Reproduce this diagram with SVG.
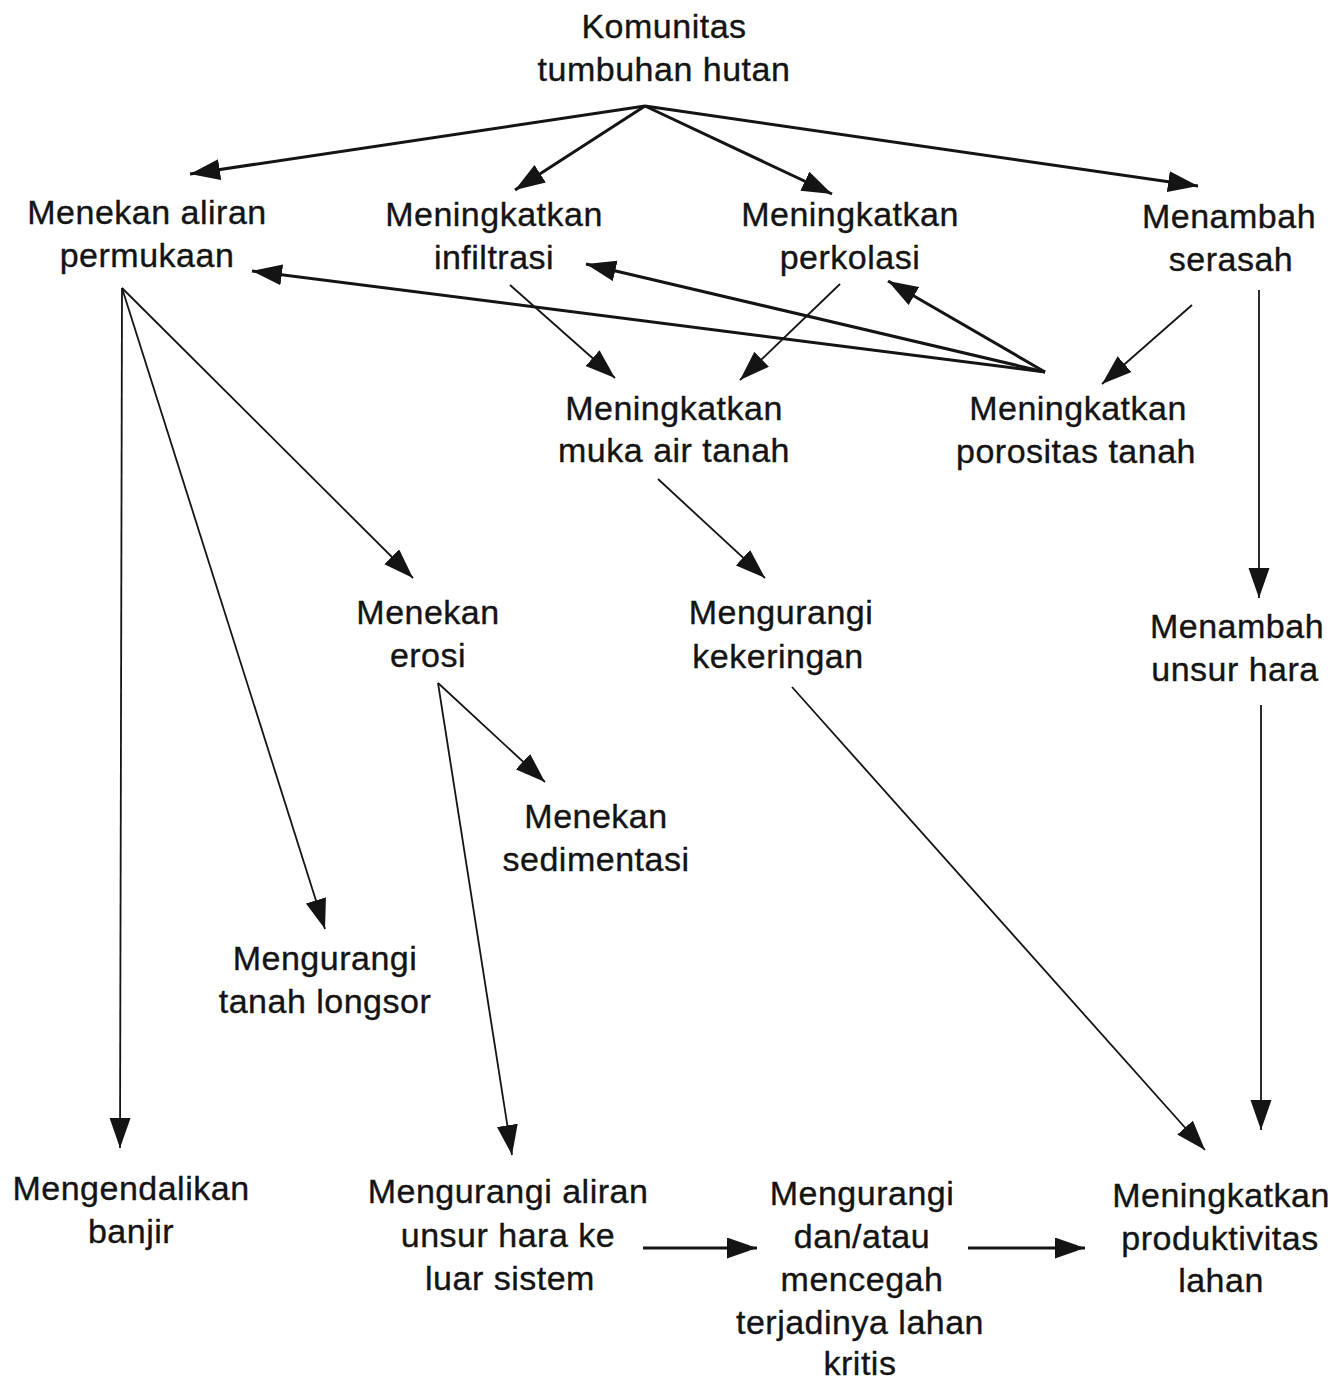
<svg xmlns="http://www.w3.org/2000/svg" width="1337" height="1383" viewBox="0 0 1337 1383">
<defs>
<style>
text{font-family:"Liberation Sans",Arial,sans-serif;font-size:34px;letter-spacing:0.5px;fill:#141414;stroke:#141414;stroke-width:0.35px;text-anchor:middle}
.c{stroke:#141414;fill:none;marker-end:url(#ah)}
.thick{stroke-width:3}
.thin{stroke-width:1.8}
</style>
<marker id="ah" markerUnits="userSpaceOnUse" markerWidth="32" markerHeight="22" refX="30" refY="10.5" orient="auto" viewBox="0 0 32 22">
<path d="M0,0 L30,10.5 L0,21 z" fill="#141414"/>
</marker>
</defs>
<rect width="1337" height="1383" fill="#ffffff"/>
<g id="connectors">
<line class="c thick" x1="645" y1="106" x2="190" y2="174"/>
<line class="c thick" x1="645" y1="106" x2="515" y2="190"/>
<line class="c thick" x1="645" y1="106" x2="832" y2="194"/>
<line class="c thick" x1="645" y1="106" x2="1198" y2="186"/>
<line class="c thick" x1="1045" y1="372" x2="252" y2="271"/>
<line class="c thick" x1="1045" y1="372" x2="586" y2="264"/>
<line class="c thick" x1="1045" y1="372" x2="888" y2="281"/>
<line class="c thin" x1="1192" y1="305" x2="1102" y2="384"/>
<line class="c thin" x1="510" y1="285" x2="615" y2="378"/>
<line class="c thin" x1="840" y1="284" x2="740" y2="380"/>
<line class="c thin" x1="122" y1="288" x2="120" y2="1148"/>
<line class="c thin" x1="122" y1="288" x2="325" y2="929"/>
<line class="c thin" x1="122" y1="288" x2="413" y2="578"/>
<line class="c thin" x1="658" y1="479" x2="765" y2="578"/>
<line class="c thin" x1="1259" y1="290" x2="1259" y2="598"/>
<line class="c thin" x1="1261" y1="705" x2="1261" y2="1130"/>
<line class="c thin" x1="792" y1="687" x2="1205" y2="1150"/>
<line class="c thin" x1="438" y1="683" x2="545" y2="782"/>
<line class="c thin" x1="438" y1="683" x2="512" y2="1155"/>
<line class="c thick" x1="643" y1="1248" x2="757" y2="1248"/>
<line class="c thick" x1="968" y1="1248" x2="1085" y2="1248"/>
</g>
<g id="n-komunitas"><text x="664" y="38">Komunitas</text><text x="664" y="81">tumbuhan hutan</text></g>
<g id="n-menekan-aliran"><text x="147" y="224">Menekan aliran</text><text x="147" y="267">permukaan</text></g>
<g id="n-infiltrasi"><text x="494" y="226">Meningkatkan</text><text x="494" y="269">infiltrasi</text></g>
<g id="n-perkolasi"><text x="850" y="226">Meningkatkan</text><text x="850" y="269">perkolasi</text></g>
<g id="n-serasah"><text x="1229" y="228">Menambah</text><text x="1231" y="271">serasah</text></g>
<g id="n-muka-air"><text x="674" y="420">Meningkatkan</text><text x="674" y="462">muka air tanah</text></g>
<g id="n-porositas"><text x="1078" y="420">Meningkatkan</text><text x="1076" y="463">porositas tanah</text></g>
<g id="n-erosi"><text x="428" y="624">Menekan</text><text x="428" y="667">erosi</text></g>
<g id="n-kekeringan"><text x="781" y="624">Mengurangi</text><text x="778" y="668">kekeringan</text></g>
<g id="n-unsur-hara"><text x="1237" y="638">Menambah</text><text x="1235" y="681">unsur hara</text></g>
<g id="n-sedimentasi"><text x="596" y="828">Menekan</text><text x="596" y="871">sedimentasi</text></g>
<g id="n-longsor"><text x="325" y="970">Mengurangi</text><text x="325" y="1013">tanah longsor</text></g>
<g id="n-banjir"><text x="131" y="1200">Mengendalikan</text><text x="131" y="1243">banjir</text></g>
<g id="n-aliran-hara"><text x="508" y="1203">Mengurangi aliran</text><text x="508" y="1247">unsur hara ke</text><text x="510" y="1290">luar sistem</text></g>
<g id="n-lahan-kritis"><text x="862" y="1205">Mengurangi</text><text x="862" y="1248">dan/atau</text><text x="862" y="1291">mencegah</text><text x="860" y="1334">terjadinya lahan</text><text x="860" y="1375">kritis</text></g>
<g id="n-produktivitas"><text x="1221" y="1207">Meningkatkan</text><text x="1220" y="1250">produktivitas</text><text x="1221" y="1292">lahan</text></g>
</svg>
